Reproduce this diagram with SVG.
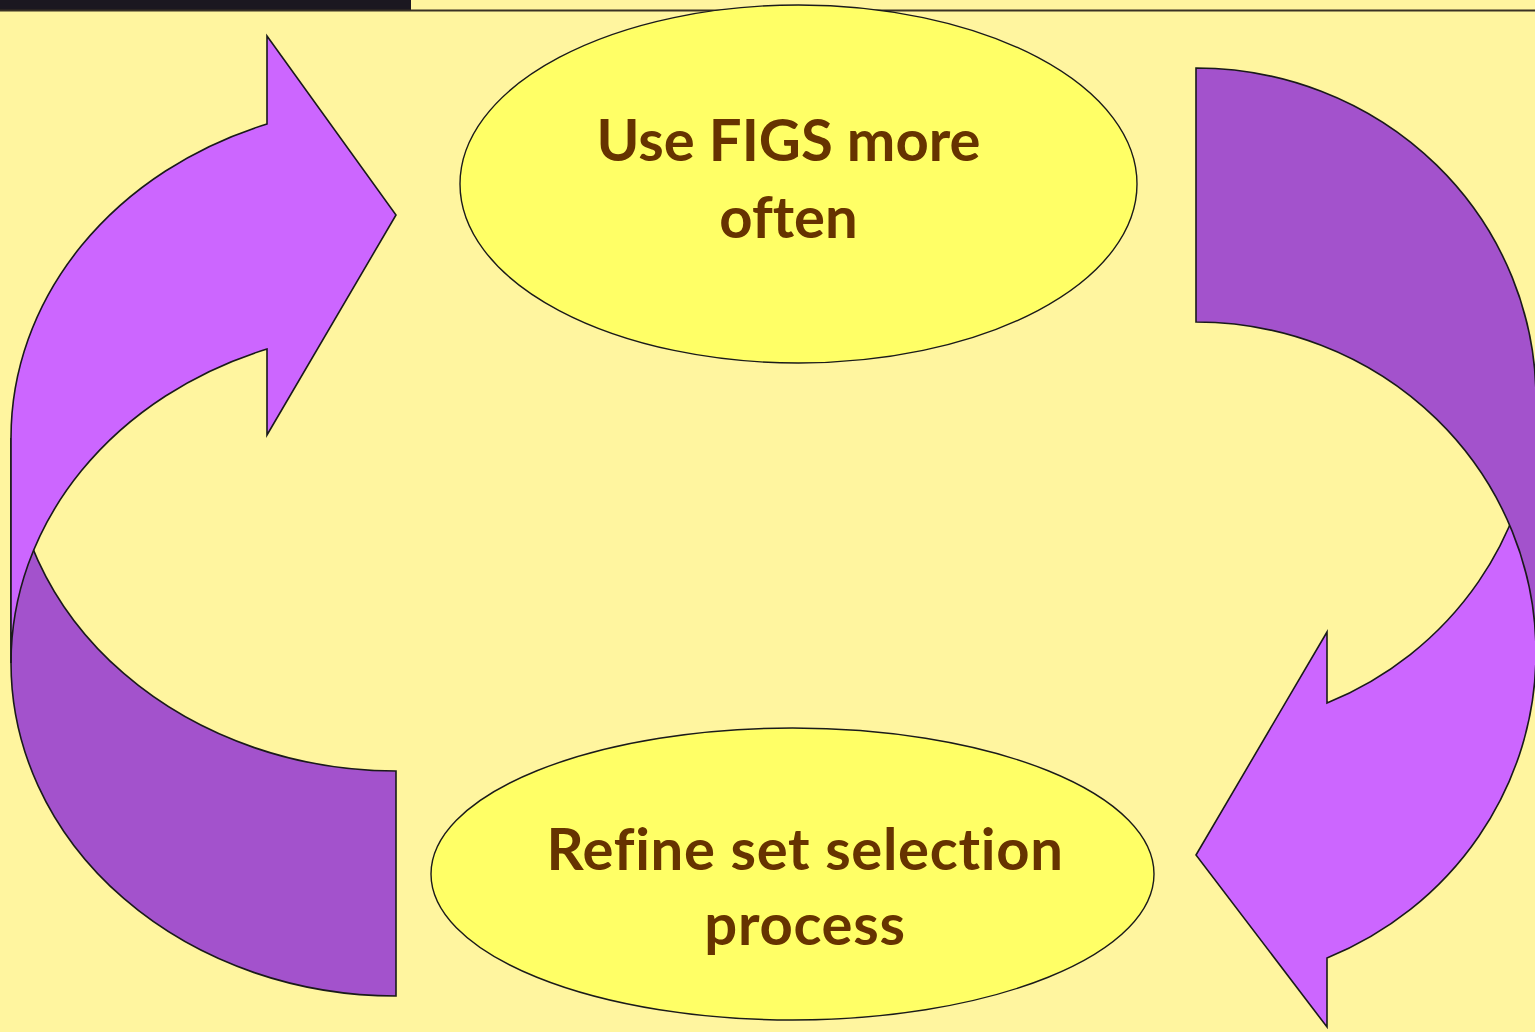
<svg xmlns="http://www.w3.org/2000/svg" width="1535" height="1032" viewBox="0 0 1535 1032">
  <style>
    .arrow { stroke: #1a1a1a; stroke-width: 1.6; stroke-linejoin: miter; }
    .light { fill: #CC66FF; }
    .dark { fill: #A352CC; }
    .node { fill: #FFFF66; stroke: #1a1a1a; stroke-width: 1.4; }
    .label { font-family: Lato, "Open Sans", "Liberation Sans", sans-serif; font-weight: 700; font-size: 58px; fill: #663300; text-anchor: middle; font-variant-ligatures: none; font-feature-settings: "liga" 0, "clig" 0; }
    .wide { letter-spacing: 0.7px; }
  </style>
  <rect x="0" y="0" width="1535" height="1032" fill="#FFF59F"/>
  <rect x="0" y="0" width="411" height="10" fill="#1b1720"/>
  <line x1="0" y1="10.5" x2="1535" y2="10.5" stroke="#3a3224" stroke-width="2"/>

  <g id="connectors">
    <g id="arrow-left">
      <path class="arrow dark" d="M396,771 A385,333 0 0 1 11,438 L11,663 A385,333 0 0 0 396,996 Z"/>
      <path class="arrow light" d="M11,438 A385,333 0 0 1 267,124 L267,36 L396,215 L267,435 L267,349 A385,333 0 0 0 11,663 Z"/>
    </g>
    <g id="arrow-right">
      <path class="arrow light" d="M1536,653 A340,331 0 0 1 1327,958 L1327,1027 L1196,855 L1327,632 L1327,703 A340,331 0 0 0 1536,399 Z"/>
      <path class="arrow dark" d="M1196,68 A340,331 0 0 1 1536,399 L1536,653 A340,331 0 0 0 1196,322 Z"/>
    </g>
  </g>

  <g id="node-use-figs">
    <ellipse class="node" cx="798.5" cy="184" rx="338.5" ry="179"/>
    <text class="label" x="788.5" y="161">Use FIGS more</text>
    <text class="label" x="788.5" y="238">often</text>
  </g>

  <g id="node-refine">
    <ellipse class="node" cx="792.5" cy="874" rx="361.5" ry="146"/>
    <text class="label wide" x="805" y="870">Refine set selection</text>
    <text class="label wide" x="805" y="945">process</text>
  </g>
</svg>
